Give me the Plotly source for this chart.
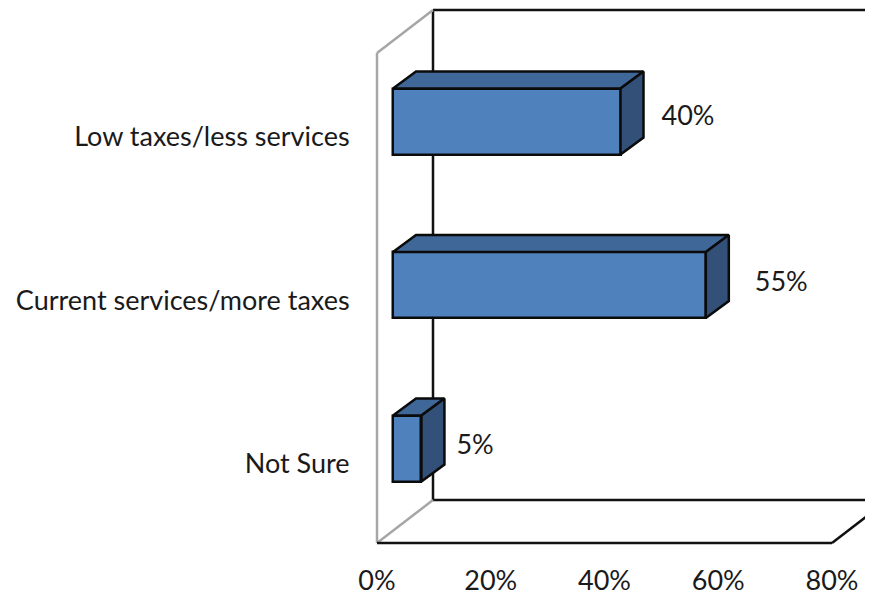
import plotly.graph_objects as go

categories = ["Not Sure", "Current services/more taxes", "Low taxes/less services"]
values = [5, 55, 40]
value_labels = ["5%", "55%", "40%"]
tick_values = [0, 20, 40, 60, 80]
tick_labels = ["0%", "20%", "40%", "60%", "80%"]

# The page adds an 8 px body margin, so the figure is sized and placed to suit.
W, H = 865, 582
ORIGIN_X, ORIGIN_Y = 369, 535   # pixel position of the origin corner in the figure
PAD = 6                         # room round the plot so wall lines are not clipped
L, B = ORIGIN_X - PAD, ORIGIN_Y + PAD
PX_X = 5.6875                   # pixels per percent
PX_Y = 163.5                    # pixels per category step
Y0_PX = 440.5                   # pixel y of first category
FONT = "Lato"
FS = 27

x_min = -PAD / PX_X
x_max = (W - ORIGIN_X) / PX_X
y_floor = -(ORIGIN_Y - Y0_PX) / PX_Y
y_min = y_floor - PAD / PX_Y
y_max = Y0_PX / PX_Y

dx = 23 / PX_X            # bar depth
dy = 17 / PX_Y
base = 16 / PX_X          # bar starts off the wall
half = 33 / PX_Y          # half of bar thickness
wall_dx = 56 / PX_X
wall_dy = 43 / PX_Y
top_y = y_max - 2 / PX_Y
label_gap = [35 / PX_X, 49 / PX_X, 41 / PX_X]
label_dy = [1.5 / PX_Y, 1 / PX_Y, 3 / PX_Y]
tick_drop = 15.5 / PX_Y
front_x = 80.0
y_pos = list(range(len(categories)))

FRONT, TOP, SIDE = "#4F81BD", "#3F6797", "#325078"
EDGE = "#0b0b0b"
TEXT = "#1a1a1a"

fig = go.Figure()

fig.add_trace(go.Bar(
    y=y_pos, x=values, base=[base] * len(values), orientation="h", width=2 * half,
    marker=dict(color=FRONT, line=dict(color=EDGE, width=2.5)),
    showlegend=False, hoverinfo="skip",
))

for y, v in zip(y_pos, values):
    r = base + v
    fig.add_trace(go.Scatter(
        x=[base, base + dx, r + dx, r, base],
        y=[y + half, y + half + dy, y + half + dy, y + half, y + half],
        fill="toself", fillcolor=TOP, mode="lines",
        line=dict(color=EDGE, width=2.5), showlegend=False, hoverinfo="skip",
    ))
    fig.add_trace(go.Scatter(
        x=[r, r + dx, r + dx, r, r],
        y=[y + half, y + half + dy, y - half + dy, y - half, y + half],
        fill="toself", fillcolor=SIDE, mode="lines",
        line=dict(color=EDGE, width=2.5), showlegend=False, hoverinfo="skip",
    ))

fig.add_trace(go.Scatter(
    x=[base + v + g for v, g in zip(values, label_gap)],
    y=[y + d for y, d in zip(y_pos, label_dy)],
    text=value_labels, mode="text", textposition="middle right",
    textfont=dict(family=FONT, size=FS, color=TEXT),
    showlegend=False, hoverinfo="skip", cliponaxis=False,
))

floor_back = y_floor + wall_dy
black = dict(color="#111", width=2.5)
grey = dict(color="#a6a6a6", width=2.5)
slope = (wall_dy * PX_Y) / (wall_dx * PX_X) * PX_X / PX_Y
shapes = [
    # back wall
    dict(type="line", x0=wall_dx, x1=wall_dx, y0=floor_back, y1=top_y, line=black, layer="below"),
    dict(type="line", x0=wall_dx, x1=x_max, y0=top_y, y1=top_y, line=black, layer="below"),
    dict(type="line", x0=wall_dx, x1=x_max, y0=floor_back, y1=floor_back, line=black, layer="below"),
    # side wall
    dict(type="line", x0=0, x1=0, y0=y_floor, y1=top_y - wall_dy, line=grey, layer="below"),
    dict(type="line", x0=0, x1=wall_dx, y0=top_y - wall_dy, y1=top_y, line=grey, layer="below"),
    dict(type="line", x0=0, x1=wall_dx, y0=y_floor, y1=floor_back, line=grey, layer="below"),
    # floor front
    dict(type="line", x0=0, x1=front_x, y0=y_floor, y1=y_floor, line=black, layer="below"),
    dict(type="line", x0=front_x, x1=x_max, y0=y_floor, y1=y_floor + (x_max - front_x) * slope,
         line=black, layer="below"),
]

fig.update_layout(
    width=W, height=H,
    margin=dict(l=L, r=0, t=0, b=H - B, pad=0, autoexpand=False),
    paper_bgcolor="white", plot_bgcolor="white",
    font=dict(family=FONT, size=FS, color=TEXT),
    shapes=shapes,
    bargap=0,
    xaxis=dict(range=[x_min, x_max], tickvals=tick_values, ticktext=tick_labels, automargin=False,
               showgrid=False, zeroline=False, showline=False, ticks="outside",
               ticklen=8, tickcolor="rgba(0,0,0,0)", tickfont=dict(family=FONT, size=FS, color=TEXT)),
    yaxis=dict(range=[y_min, y_max], tickvals=[y - tick_drop for y in y_pos], ticktext=categories, automargin=False,
               showgrid=False, zeroline=False, showline=False, ticks="outside",
               ticklen=15, tickcolor="rgba(0,0,0,0)", tickfont=dict(family=FONT, size=FS, color=TEXT)),
)

fig.write_html("out.html")
